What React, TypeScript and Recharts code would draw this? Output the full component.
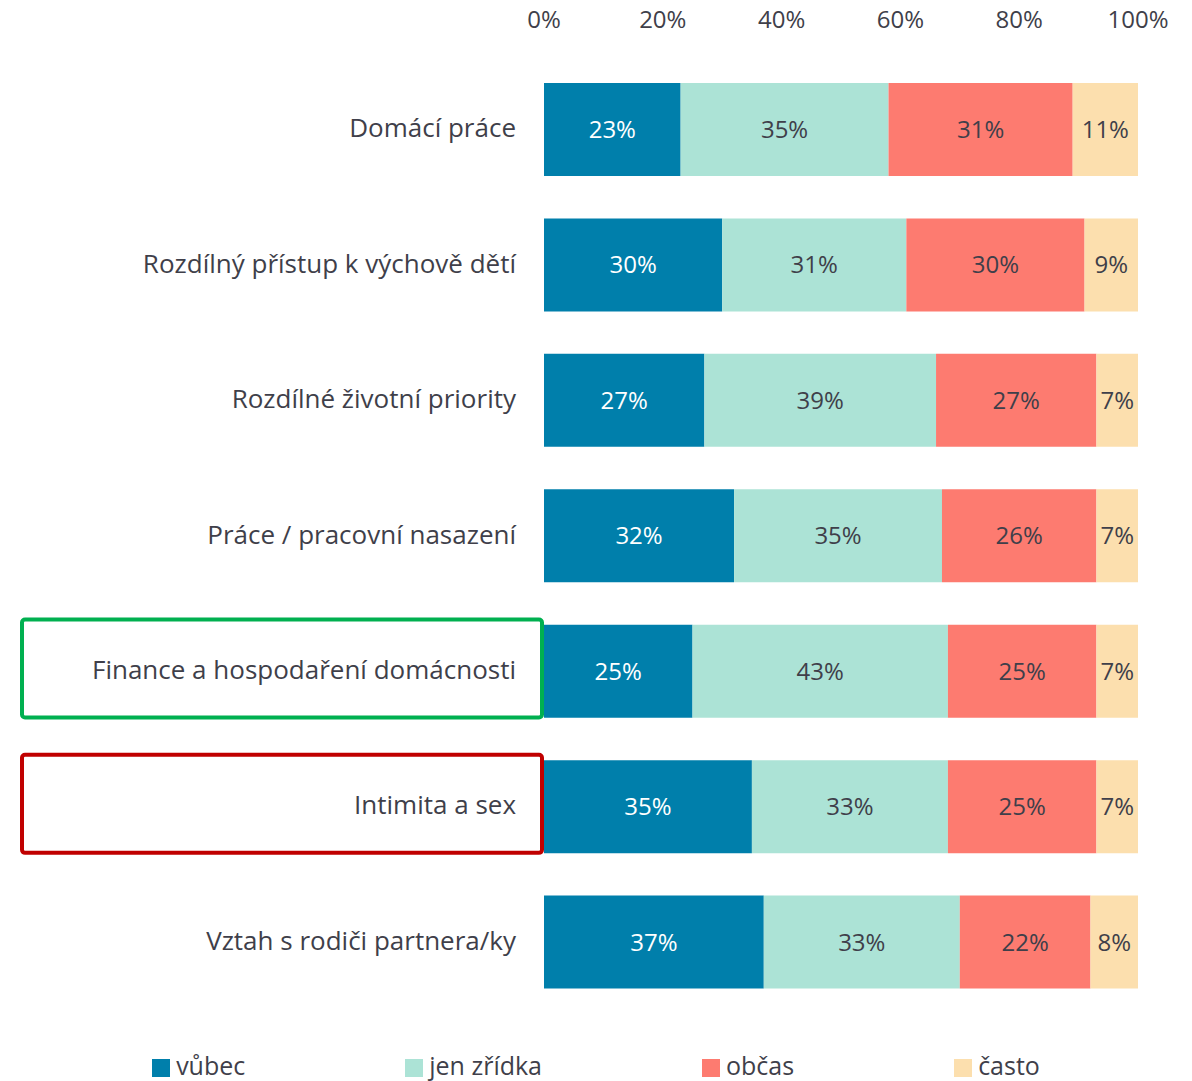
import { BarChart, Bar, XAxis, YAxis, Legend, LabelList } from "recharts";

const categories = [
  "Domácí práce",
  "Rozdílný přístup k výchově dětí",
  "Rozdílné životní priority",
  "Práce / pracovní nasazení",
  "Finance a hospodaření domácnosti",
  "Intimita a sex",
  "Vztah s rodiči partnera/ky",
];

const vubec = [23, 30, 27, 32, 25, 35, 37];
const jenZridka = [35, 31, 39, 35, 43, 33, 33];
const obcas = [31, 30, 27, 26, 25, 25, 22];
const casto = [11, 9, 7, 7, 7, 7, 8];

const xTicks = [0, 20, 40, 60, 80, 100];

const series = [
  { key: "vubec", name: "vůbec", color: "#007FAB", text: "#FFFFFF" },
  { key: "jenZridka", name: "jen zřídka", color: "#ACE3D6", text: "#3F3F4A" },
  { key: "obcas", name: "občas", color: "#FD7B70", text: "#3F3F4A" },
  { key: "casto", name: "často", color: "#FCDFAE", text: "#3F3F4A" },
];

// boxed categories in the original
const highlights: Record<string, string> = {
  "Finance a hospodaření domácnosti": "#00B050",
  "Intimita a sex": "#C00000",
};

const data = categories.map((name, i) => ({
  name,
  vubec: vubec[i],
  jenZridka: jenZridka[i],
  obcas: obcas[i],
  casto: casto[i],
}));

const FONT = "'Open Sans', sans-serif";
const TEXT = "#3F3F4A";

const CategoryTick = ({ x, y, payload }: any) => {
  const border = highlights[payload.value];
  return (
    <g>
      {border && (
        <rect
          x={x - 514}
          y={y - 52}
          width={520}
          height={98}
          rx={3}
          fill="none"
          stroke={border}
          strokeWidth={4}
        />
      )}
      <text x={x - 20} y={y - 2} dy="0.1em" textAnchor="end" dominantBaseline="middle" fill={TEXT} fontSize={26} fontFamily={FONT}>
        {payload.value}
      </text>
    </g>
  );
};

const PercentTick = ({ x, y, payload }: any) => (
  <text x={x} y={y - 32} textAnchor="middle" dominantBaseline="middle" fill={TEXT} fontSize={24} fontFamily={FONT}>
    {payload.value}%
  </text>
);

const LegendContent = () => (
  <div style={{ display: "flex", justifyContent: "center", gap: 160, paddingTop: 38, fontFamily: FONT, fontSize: 25, color: TEXT }}>
    {series.map((s) => (
      <div key={s.key} style={{ display: "flex", alignItems: "center", gap: 6 }}>
        <span style={{ display: "inline-block", width: 18, height: 18, background: s.color, marginTop: 6 }} />
        <span>{s.name}</span>
      </div>
    ))}
  </div>
);

export default function App() {
  return (
    <div style={{ position: "absolute", top: 0, left: 0, width: 1192, height: 1081, background: "#fff", overflow: "hidden" }}>
      <BarChart
        width={1192}
        height={1081}
        data={data}
        layout="vertical"
        margin={{ top: 0, right: 54, bottom: 0, left: 0 }}
        barSize={93}
      >
        <XAxis
          type="number"
          orientation="top"
          domain={[0, 100]}
          ticks={xTicks}
          height={62}
          axisLine={false}
          tickLine={false}
          tick={<PercentTick />}
          interval={0}
        />
        <YAxis
          type="category"
          dataKey="name"
          width={544}
          axisLine={false}
          tickLine={false}
          tick={<CategoryTick />}
          interval={0}
        />
        <Legend
          verticalAlign="bottom"
          height={71}
          width={1192}
          wrapperStyle={{ left: 0, width: 1192 }}
          content={<LegendContent />}
        />
        {series.map((s) => (
          <Bar key={s.key} dataKey={s.key} name={s.name} stackId="a" fill={s.color} isAnimationActive={false}>
            <LabelList
              dataKey={s.key}
              position="center"
              fill={s.text}
              fontSize={24}
              fontFamily={FONT}
              formatter={(v: any) => `${v}%`}
            />
          </Bar>
        ))}
      </BarChart>
    </div>
  );
}
